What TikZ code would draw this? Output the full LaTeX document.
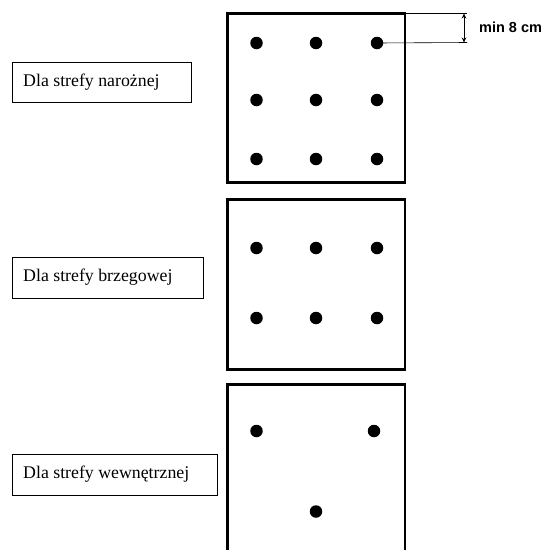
\documentclass[tikz,border=0pt]{standalone}
\usepackage{fontspec}
\setmainfont{Liberation Serif}
\newfontfamily\arialfont{Liberation Sans}
\usetikzlibrary{arrows.meta}
\begin{document}
\begin{tikzpicture}[x=1pt,y=-1pt,
  column/.style={draw,line width=2.6pt},
  label/.style={draw,line width=1.3pt,anchor=north west,inner sep=0pt},
  labeltext/.style={anchor=west,inner sep=0pt,font=\fontsize{17.8}{20}\selectfont},
  bar/.style={fill=black,circle,inner sep=0pt,minimum size=12.5pt},
  dim/.style={line width=0.6pt}]
\useasboundingbox (0,0) rectangle (544,550);
\clip (0,0) rectangle (544,550);
\fill[white] (0,0) rectangle (544,550);
% columns
\draw[column] (227.5,13.5) rectangle (405,182.5);
\draw[column] (227.5,199.5) rectangle (405,369.5);
\draw[column] (227.5,384.5) rectangle (405,560);
% label boxes
\node[label,minimum width=179pt,minimum height=40pt] (la) at (12,62) {};
\node[labeltext] (ta) at (23,82) {Dla strefy narożnej};
\node[label,minimum width=190.5pt,minimum height=41pt] (lb) at (12,257) {};
\node[labeltext] (tb) at (23,277) {Dla strefy brzegowej};
\node[label,minimum width=205pt,minimum height=41pt] (lc) at (12,454) {};
\node[labeltext] (tc) at (23,474.5) {Dla strefy wewnętrznej};
% bars box 1
\foreach \x/\n in {256.5/1,316/2,377/3}{
  \foreach \y/\m in {43/1,100/2,159/3}{
    \node[bar] (a\n\m) at (\x,\y) {};
  }
}
% bars box 2
\foreach \x/\n in {256.5/1,316/2,377/3}{
  \foreach \y/\m in {248/1,318/2}{
    \node[bar] (b\n\m) at (\x,\y) {};
  }
}
% bars box 3
\node[bar] (c1) at (256.5,431) {};
\node[bar] (c2) at (374,431) {};
\node[bar] (c3) at (316,511.5) {};
% dimension
\coordinate (d1) at (405,13.5);
\coordinate (d2) at (467,13.5);
\coordinate (d3) at (467,42.5);
\coordinate (t1) at (464,13.5);
\coordinate (t2) at (464,42.5);
\draw[dim] (d1) -- (d2);
\draw[dim] (a31.center) -- (d3);
\draw[dim,{Stealth[length=5pt,width=4.5pt]}-{Stealth[length=5pt,width=4.5pt]}] (t1) -- (t2);
\node[anchor=west,inner sep=0pt,font=\arialfont\bfseries\fontsize{14.5}{16}\selectfont] (dl) at (479,27) {min 8 cm};
\end{tikzpicture}
\end{document}
